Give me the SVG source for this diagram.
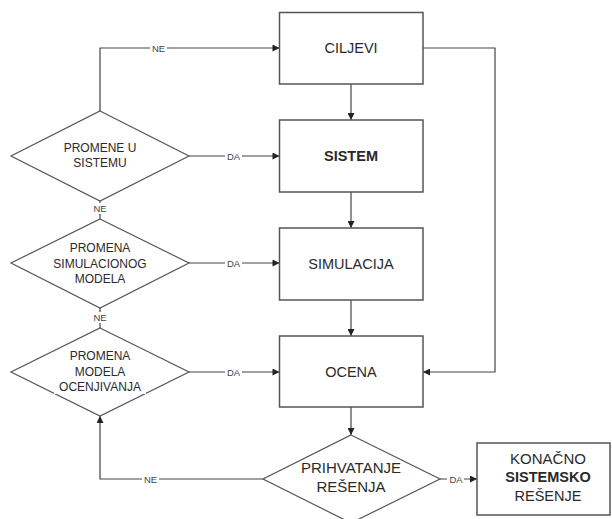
<svg xmlns="http://www.w3.org/2000/svg" width="612" height="519" viewBox="0 0 612 519">
  <defs>
    <marker id="arrow" viewBox="0 0 10 10" refX="10" refY="5" markerWidth="9" markerHeight="7" markerUnits="userSpaceOnUse" orient="auto">
      <path d="M0,0 L10,5 L0,10 z" fill="#222"/>
    </marker>
    <style>
      .box { fill: #fff; stroke: #555; stroke-width: 1.5; }
      .dia { fill: #fff; stroke: #555; stroke-width: 1.2; }
      .line { fill: none; stroke: #444; stroke-width: 1.2; }
      .txt { font-family: "Liberation Sans", Arial, sans-serif; font-size: 14.5px; fill: #2a2a2a; text-anchor: middle; }
      .dtxt { font-family: "Liberation Sans", Arial, sans-serif; font-size: 12px; fill: #2a2a2a; text-anchor: middle; }
      .big { font-size: 15px; }
      .lbl { font-family: "Liberation Sans", Arial, sans-serif; font-size: 9.5px; fill: #444; text-anchor: middle; }
      .bg { fill: #fff; }
      .b { font-weight: bold; }
    </style>
  </defs>
  <rect width="612" height="519" fill="#fff"/>

  <!-- connectors -->
  <g id="connectors">
    <path class="line" d="M100,111 V48 H279.5" marker-end="url(#arrow)"/>
    <path class="line" d="M189,156 H279.5" marker-end="url(#arrow)"/>
    <path class="line" d="M189,263 H279.5" marker-end="url(#arrow)"/>
    <path class="line" d="M189,372 H279.5" marker-end="url(#arrow)"/>
    <path class="line" d="M100,201 V219"/>
    <path class="line" d="M100,308 V328"/>
    <path class="line" d="M351,84 V120" marker-end="url(#arrow)"/>
    <path class="line" d="M351,192 V228" marker-end="url(#arrow)"/>
    <path class="line" d="M351,300 V336" marker-end="url(#arrow)"/>
    <path class="line" d="M351,407 V435" marker-end="url(#arrow)"/>
    <path class="line" d="M423,48 H495 V372 H423" marker-end="url(#arrow)"/>
    <path class="line" d="M263,479 H100 V416" marker-end="url(#arrow)"/>
    <path class="line" d="M440,479 H477" marker-end="url(#arrow)"/>
    <!-- connector labels -->
    <rect class="bg" x="150" y="43" width="17" height="10"/>
    <text class="lbl" x="158.5" y="51.5">NE</text>
    <rect class="bg" x="225" y="151" width="17" height="10"/>
    <text class="lbl" x="233.5" y="159.5">DA</text>
    <rect class="bg" x="225" y="258" width="17" height="10"/>
    <text class="lbl" x="233.5" y="266.5">DA</text>
    <rect class="bg" x="225" y="367" width="17" height="10"/>
    <text class="lbl" x="233.5" y="375.5">DA</text>
    <rect class="bg" x="92" y="203" width="16" height="11"/>
    <text class="lbl" x="100" y="211.5">NE</text>
    <rect class="bg" x="92" y="312" width="16" height="11"/>
    <text class="lbl" x="100" y="320.5">NE</text>
    <rect class="bg" x="142" y="474" width="17" height="10"/>
    <text class="lbl" x="150.5" y="482.5">NE</text>
    <rect class="bg" x="447" y="474" width="17" height="10"/>
    <text class="lbl" x="456" y="482.5">DA</text>
  </g>

  <!-- process boxes -->
  <g id="ciljevi">
    <rect class="box" x="279.5" y="12.5" width="143.5" height="71.5"/>
    <text class="txt" x="351" y="53">CILJEVI</text>
  </g>
  <g id="sistem">
    <rect class="box" x="279.5" y="120" width="143.5" height="72"/>
    <text class="txt b" x="351" y="161">SISTEM</text>
  </g>
  <g id="simulacija">
    <rect class="box" x="279.5" y="228" width="143.5" height="72"/>
    <text class="txt" x="351" y="268.5">SIMULACIJA</text>
  </g>
  <g id="ocena">
    <rect class="box" x="279.5" y="336" width="143.5" height="71"/>
    <text class="txt" x="351" y="377">OCENA</text>
  </g>
  <g id="konacno">
    <rect class="box" x="477" y="443" width="133" height="72"/>
    <text class="txt big" x="548" y="463.5">KONAČNO</text>
    <text class="txt b" x="548" y="482">SISTEMSKO</text>
    <text class="txt" x="548" y="500.5">REŠENJE</text>
  </g>

  <!-- decision diamonds -->
  <g id="promene-u-sistemu">
    <polygon class="dia" points="100,111 189,156 100,201 11,156"/>
    <text class="dtxt" x="100" y="152">PROMENE U</text>
    <text class="dtxt" x="100" y="167">SISTEMU</text>
  </g>
  <g id="promena-simulacionog-modela">
    <polygon class="dia" points="100,219 189,263 100,308 11,263"/>
    <rect class="bg" x="63" y="242" width="74" height="13"/>
    <rect class="bg" x="49" y="257" width="102" height="13"/>
    <rect class="bg" x="70" y="273" width="60" height="13"/>
    <text class="dtxt" x="100" y="252">PROMENA</text>
    <text class="dtxt" x="100" y="268">SIMULACIONOG</text>
    <text class="dtxt" x="100" y="283">MODELA</text>
  </g>
  <g id="promena-modela-ocenjivanja">
    <polygon class="dia" points="100,328 189,372 100,416 11,372"/>
    <rect class="bg" x="63" y="350" width="74" height="13"/>
    <rect class="bg" x="54" y="381" width="92" height="13"/>
    <text class="dtxt" x="100" y="360">PROMENA</text>
    <text class="dtxt" x="100" y="376">MODELA</text>
    <text class="dtxt" x="100" y="391">OCENJIVANJA</text>
  </g>
  <g id="prihvatanje-resenja">
    <polygon class="dia" points="351,435 440,479 351,523 263,479"/>
    <text class="dtxt big" x="351" y="473">PRIHVATANJE</text>
    <text class="dtxt big" x="351" y="492">REŠENJA</text>
  </g>
</svg>
